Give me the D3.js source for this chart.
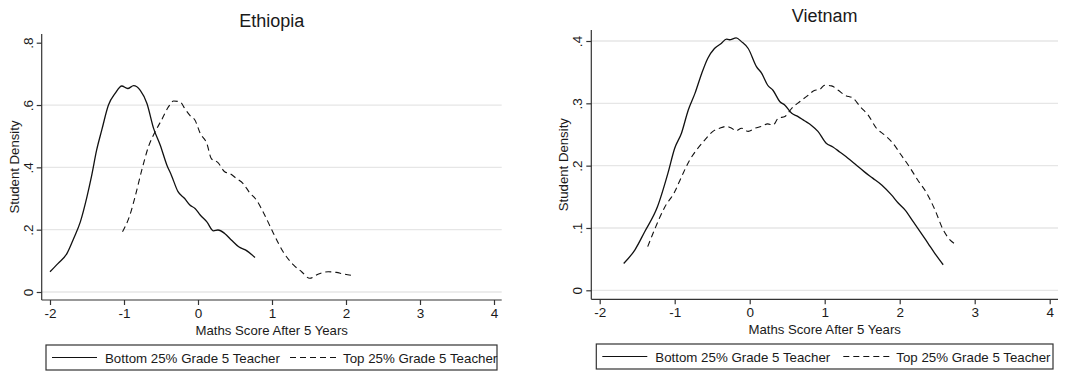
<!DOCTYPE html>
<html>
<head>
<meta charset="utf-8">
<script src="https://cdn.jsdelivr.net/npm/d3@7"></script>
<style>
body { margin: 0; background: #fff; }
text { font-family: "Liberation Sans", Arial, sans-serif; fill: #1a1a1a; }
</style>
</head>
<body>
<svg id="chart" width="1078" height="372"></svg>
<script>
// x tick values shared by both panels
const x_ticks = [-2, -1, 0, 1, 2, 3, 4]
const x_labels = ["-2", "-1", "0", "1", "2", "3", "4"]

// Ethiopia
const eth_y_ticks = [0, 0.2, 0.4, 0.6, 0.8]
const eth_y_labels = ["0", ".2", ".4", ".6", ".8"]
const eth_bottom = [[-2.0,0.065],[-1.89,0.092],[-1.77,0.124],[-1.68,0.172],[-1.59,0.225],[-1.50,0.306],[-1.44,0.37],[-1.37,0.455],[-1.30,0.52],[-1.21,0.60],[-1.12,0.637],[-1.03,0.661],[-0.95,0.653],[-0.87,0.662],[-0.78,0.647],[-0.69,0.605],[-0.60,0.525],[-0.51,0.471],[-0.42,0.407],[-0.36,0.375],[-0.27,0.322],[-0.18,0.30],[-0.11,0.279],[-0.04,0.268],[0.03,0.247],[0.12,0.225],[0.21,0.196],[0.27,0.199],[0.36,0.188],[0.45,0.167],[0.55,0.145],[0.64,0.135],[0.77,0.111]]
const eth_top = [[-1.02,0.193],[-0.92,0.247],[-0.85,0.306],[-0.76,0.391],[-0.67,0.466],[-0.58,0.514],[-0.49,0.553],[-0.40,0.594],[-0.33,0.613],[-0.24,0.61],[-0.18,0.589],[-0.11,0.567],[-0.04,0.551],[0.03,0.509],[0.12,0.476],[0.18,0.428],[0.27,0.415],[0.36,0.386],[0.43,0.38],[0.52,0.364],[0.61,0.348],[0.70,0.318],[0.79,0.295],[0.88,0.257],[1.02,0.188],[1.15,0.129],[1.29,0.087],[1.40,0.065],[1.51,0.044],[1.63,0.058],[1.76,0.065],[1.87,0.063],[1.96,0.058],[2.08,0.053]]

// Vietnam
const vn_y_ticks = [0, 0.1, 0.2, 0.3, 0.4]
const vn_y_labels = ["0", ".1", ".2", ".3", ".4"]
const vn_bottom = [[-1.68,0.043],[-1.53,0.065],[-1.40,0.094],[-1.23,0.134],[-1.09,0.188],[-1.0,0.228],[-0.91,0.252],[-0.82,0.289],[-0.73,0.316],[-0.64,0.348],[-0.56,0.372],[-0.47,0.388],[-0.38,0.396],[-0.31,0.403],[-0.27,0.402],[-0.18,0.405],[-0.11,0.399],[-0.02,0.388],[0.09,0.359],[0.16,0.348],[0.24,0.329],[0.31,0.321],[0.40,0.303],[0.47,0.297],[0.56,0.284],[0.64,0.279],[0.73,0.272],[0.82,0.265],[0.91,0.255],[1.02,0.236],[1.11,0.230],[1.20,0.222],[1.31,0.212],[1.42,0.201],[1.53,0.190],[1.64,0.180],[1.76,0.169],[1.89,0.153],[1.98,0.140],[2.07,0.129],[2.18,0.110],[2.29,0.091],[2.38,0.075],[2.47,0.059],[2.58,0.041]]
const vn_top = [[-1.36,0.070],[-1.27,0.097],[-1.13,0.134],[-1.0,0.158],[-0.91,0.182],[-0.80,0.209],[-0.71,0.225],[-0.60,0.241],[-0.49,0.255],[-0.40,0.260],[-0.31,0.263],[-0.24,0.260],[-0.18,0.256],[-0.11,0.260],[-0.02,0.255],[0.07,0.260],[0.16,0.263],[0.24,0.267],[0.31,0.265],[0.38,0.276],[0.47,0.279],[0.56,0.292],[0.67,0.303],[0.78,0.313],[0.87,0.321],[0.93,0.322],[1.0,0.329],[1.09,0.328],[1.18,0.321],[1.27,0.313],[1.38,0.308],[1.47,0.295],[1.58,0.281],[1.69,0.260],[1.80,0.249],[1.91,0.236],[2.02,0.217],[2.13,0.198],[2.24,0.177],[2.36,0.156],[2.47,0.129],[2.58,0.097],[2.67,0.081],[2.73,0.075]]

const legend_labels = ["Bottom 25% Grade 5 Teacher", "Top 25% Grade 5 Teacher"]

const svg = d3.select("#chart")
const font = "'Liberation Sans', Arial, sans-serif"

function draw_panel(p) {
	const g = svg.append("g")
	const x = d3.scaleLinear().domain([-2, 4]).range([p.x0, p.x4])
	const y = d3.scaleLinear().domain([0, p.ymax]).range([p.y0, p.ytop])

	// gridlines
	g.selectAll("line.grid").data(p.y_ticks.filter(v => v < p.ymax || p.grid_top))
		.enter().append("line")
		.attr("x1", p.left).attr("x2", p.right)
		.attr("y1", d => y(d)).attr("y2", d => y(d))
		.attr("stroke", "#e6e6e6").attr("stroke-width", 1.3)

	// y axis
	const ya = g.append("g").attr("transform", `translate(${p.left},0)`)
		.call(d3.axisLeft(y).tickValues(p.y_ticks).tickSize(5).tickFormat((d, i) => p.y_labels[i]))
	ya.select(".domain").attr("d", `M0,${p.axis_top}V${p.bottom}`).attr("stroke", "#333").attr("stroke-width", 1.2)
	ya.selectAll(".tick line").attr("stroke", "#333").attr("stroke-width", 1.2)
	ya.selectAll(".tick text")
		.attr("font-size", 13.5).attr("x", 0).attr("dy", 0)
		.attr("text-anchor", "middle")
		.attr("transform", "translate(-9,0) rotate(-90)")
		.style("font-family", font).style("fill", "#1a1a1a")

	// x axis
	const xa = g.append("g").attr("transform", `translate(0,${p.bottom})`)
		.call(d3.axisBottom(x).tickValues(x_ticks).tickSize(5).tickFormat((d, i) => x_labels[i]))
	xa.select(".domain").attr("d", `M${p.left},0H${p.right}`).attr("stroke", "#333").attr("stroke-width", 1.2)
	xa.selectAll(".tick line").attr("stroke", "#333").attr("stroke-width", 1.2)
	xa.selectAll(".tick text").attr("font-size", 13.5).attr("y", 8)
		.style("font-family", font).style("fill", "#1a1a1a")

	// curves
	const line = d3.line().x(d => x(d[0])).y(d => y(d[1])).curve(d3.curveMonotoneX)
	g.append("path").datum(p.bottom_data).attr("d", line)
		.attr("fill", "none").attr("stroke", "#111").attr("stroke-width", 1.3)
	g.append("path").datum(p.top_data).attr("d", line)
		.attr("fill", "none").attr("stroke", "#111").attr("stroke-width", 1.1)
		.attr("stroke-dasharray", "6,4")

	// titles
	g.append("text").text(p.title)
		.attr("x", (p.left + p.right) / 2).attr("y", p.title_y)
		.attr("text-anchor", "middle").attr("font-size", 18)
	g.append("text").text("Maths Score After 5 Years")
		.attr("x", (p.left + p.right) / 2).attr("y", p.bottom + 34.5)
		.attr("text-anchor", "middle").attr("font-size", 13.2)
	g.append("text").text("Student Density")
		.attr("transform", `translate(${p.ylab_x},${(p.axis_top + p.bottom) / 2}) rotate(-90)`)
		.attr("text-anchor", "middle").attr("font-size", 13.2)

	// legend
	const lg = g.append("g")
	lg.append("rect").attr("x", p.lg_x).attr("y", p.lg_y)
		.attr("width", p.lg_w).attr("height", 25)
		.attr("fill", "#fff").attr("stroke", "#333").attr("stroke-width", 1.2)
	const ly = p.lg_y + 12.5
	lg.append("line").attr("x1", p.lg_x + 6).attr("x2", p.lg_x + 51)
		.attr("y1", ly).attr("y2", ly).attr("stroke", "#111").attr("stroke-width", 1.2)
	lg.append("text").text(legend_labels[0]).attr("x", p.lg_x + 59).attr("y", ly + 5).attr("font-size", 13.3)
	lg.append("line").attr("x1", p.lg_x + p.lg_dash).attr("x2", p.lg_x + p.lg_dash + 47)
		.attr("y1", ly).attr("y2", ly).attr("stroke", "#111").attr("stroke-width", 1.1).attr("stroke-dasharray", "6,4")
	lg.append("text").text(legend_labels[1]).attr("x", p.lg_x + p.lg_dash + 53).attr("y", ly + 5).attr("font-size", 13.3)
}

draw_panel({
	title: "Ethiopia", title_y: 27,
	x0: 50, x4: 494, left: 41.7, right: 501.7,
	y0: 292, ytop: 42.7, ymax: 0.8, axis_top: 34, bottom: 300,
	y_ticks: eth_y_ticks, y_labels: eth_y_labels, grid_top: false,
	bottom_data: eth_bottom, top_data: eth_top,
	ylab_x: 19,
	lg_x: 46, lg_y: 345, lg_w: 451, lg_dash: 244
})

draw_panel({
	title: "Vietnam", title_y: 21.5,
	x0: 599.7, x4: 1049.7, left: 591.3, right: 1058,
	y0: 290.3, ytop: 41, ymax: 0.4, axis_top: 30, bottom: 299.3,
	y_ticks: vn_y_ticks, y_labels: vn_y_labels, grid_top: true,
	bottom_data: vn_bottom, top_data: vn_top,
	ylab_x: 568,
	lg_x: 596.3, lg_y: 344, lg_w: 456.7, lg_dash: 247
})
</script>
</body>
</html>
